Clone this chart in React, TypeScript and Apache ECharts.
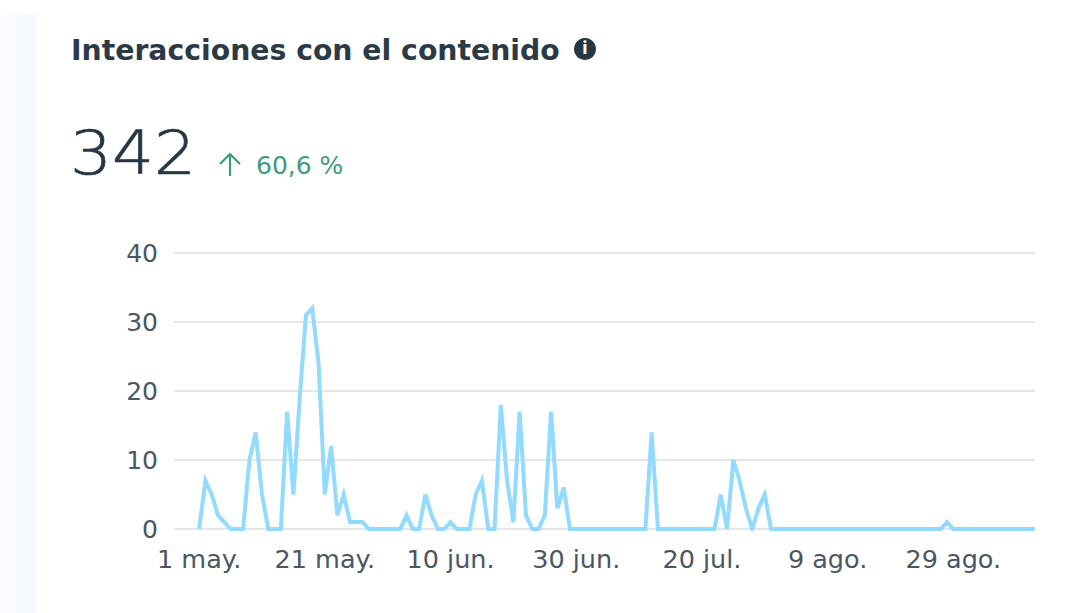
import React, { useEffect, useRef } from "react";
import * as echarts from "echarts";

const title = "Interacciones con el contenido";
const totalValue = "342";
const changeValue = "60,6 %";
const yTicks = [0, 10, 20, 30, 40];
const tickLabels = ["1 may.", "21 may.", "10 jun.", "30 jun.", "20 jul.", "9 ago.", "29 ago."];
const leadingBlanks = 4;
const labelEvery = 20;
const interactions = [
  0, 7, 5, 2, 1, 0, 0, 0, 10, 14,
  5, 0, 0, 0, 17, 5, 19, 31, 32, 24,
  5, 12, 2, 5, 1, 1, 1, 0, 0, 0,
  0, 0, 0, 2, 0, 0, 5, 2, 0, 0,
  1, 0, 0, 0, 5, 7, 0, 0, 18, 7,
  1, 17, 2, 0, 0, 2, 17, 3, 6, 0,
  0, 0, 0, 0, 0, 0, 0, 0, 0, 0,
  0, 0, 14, 0, 0, 0, 0, 0, 0, 0,
  0, 0, 0, 5, 0, 10, 7, 3, 0, 3,
  5, 0, 0, 0, 0, 0, 0, 0, 0, 0,
  0, 0, 0, 0, 0, 0, 0, 0, 0, 0,
  0, 0, 0, 0, 0, 0, 0, 0, 0, 1,
  0, 0, 0, 0, 0, 0, 0, 0, 0, 0,
  0, 0, 0, 0,
];

const categories: string[] = [
  ...Array.from({ length: leadingBlanks }, (_, i) => `blank-${i}`),
  ...interactions.map((_, i) => (i % labelEvery === 0 ? tickLabels[i / labelEvery] ?? "" : `d${i}`)),
];
const seriesData: (number | null)[] = [
  ...Array.from({ length: leadingBlanks }, () => null),
  ...interactions,
];

export default function App() {
  const ref = useRef<HTMLDivElement>(null);
  useEffect(() => {
    document.body.style.margin = "0";
    document.body.style.background = "#ffffff";
    const chart = echarts.init(ref.current!, undefined, { renderer: "svg" });
    chart.setOption({
      animation: false,
      backgroundColor: "#ffffff",
      grid: { left: 174, right: 37, top: 253, bottom: 84, containLabel: false },
      xAxis: {
        type: "category",
        boundaryGap: false,
        data: categories,
        axisLine: { show: false },
        axisTick: { show: false },
        splitLine: { show: false },
        axisLabel: {
          interval: (i: number) => i >= leadingBlanks && (i - leadingBlanks) % labelEvery === 0,
          color: "#4b5661",
          fontFamily: "DejaVu Sans",
          fontSize: 25.5,
          margin: 17,
          hideOverlap: false,
        },
      },
      yAxis: {
        type: "value",
        min: 0,
        max: 40,
        interval: 10,
        axisLine: { show: false },
        axisTick: { show: false },
        splitLine: { lineStyle: { color: "#e4e6e8", width: 2 } },
        axisLabel: {
          color: "#4b5661",
          fontFamily: "DejaVu Sans",
          fontSize: 25,
          margin: 16,
          formatter: (v: number) => (yTicks.includes(v) ? String(v) : ""),
        },
      },
      series: [
        {
          type: "line",
          data: seriesData,
          showSymbol: false,
          connectNulls: false,
          smooth: false,
          lineStyle: { color: "#92daff", width: 4, join: "miter" },
        },
      ],
      graphic: [
        {
          type: "rect",
          silent: true,
          shape: { x: 0, y: 14, width: 36, height: 599 },
          style: {
            fill: new echarts.graphic.LinearGradient(0, 0, 1, 0, [
              { offset: 0, color: "#fbfcfe" },
              { offset: 1, color: "#f4f8fe" },
            ]),
          },
        },
        {
          type: "text",
          left: 71,
          top: 36,
          style: {
            text: title,
            fill: "#2c3a45",
            font: '700 28.3px "DejaVu Sans"',
          },
        },
        { type: "circle", shape: { cx: 585, cy: 49, r: 11 }, style: { fill: "#263743" } },
        {
          type: "text",
          left: 582.5,
          top: 39,
          style: { text: "i", fill: "#ffffff", font: '800 17px "Inter"' },
        },
        {
          type: "text",
          x: 70,
          y: 123,
          scaleX: 1.1,
          style: {
            text: totalValue,
            fill: "#263743",
            stroke: "#263743",
            lineWidth: 0.7,
            font: '200 60px "DejaVu Sans"',
            verticalAlign: "top",
          },
        },
        {
          type: "polyline",
          silent: true,
          shape: { points: [[230, 176], [230, 154]] },
          style: { stroke: "#3c9c7a", lineWidth: 2.2, fill: "none" },
        },
        {
          type: "polyline",
          silent: true,
          shape: { points: [[220, 164], [230, 154], [240, 164]] },
          style: { stroke: "#3c9c7a", lineWidth: 2.2, fill: "none" },
        },
        {
          type: "text",
          left: 256,
          top: 153,
          style: { text: changeValue, fill: "#3c9c7a", font: '400 25px "DejaVu Sans"' },
        },
      ],
    });
    return () => chart.dispose();
  }, []);
  return <div ref={ref} style={{ width: 1072, height: 613 }} />;
}
